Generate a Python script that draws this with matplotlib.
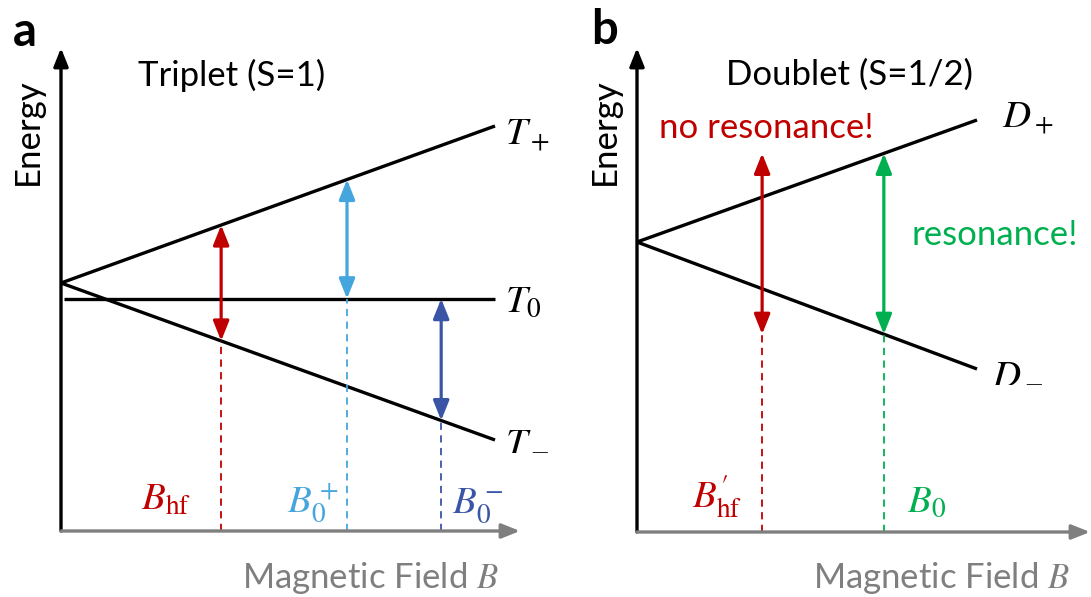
import numpy as np
import matplotlib
matplotlib.use("Agg")
import matplotlib.pyplot as plt

plt.rcParams['font.family'] = ['Lato', 'DejaVu Sans']
plt.rcParams['mathtext.fontset'] = 'stix'

# ---- data (schematic energy levels, arbitrary units) ----
# panel a: triplet
B_a = [0.0, 1.0]
T_plus = [0.0, 1.0]
T_zero_B = [0.007, 1.0]
T_zero = [-0.1, -0.1]
T_minus = [0.0, -1.0]
B_hf = 0.369
B0_plus = 0.659
B0_minus = 0.876

# panel b: doublet
B_b = [0.0, 1.0]
D_plus = [0.0, 0.98]
D_minus = [0.0, -1.02]
B_hf_prime = 0.368
B0 = 0.726

RED = '#C00000'
LBLUE = '#45A5DD'
DBLUE = '#3A55A6'
GREEN = '#00B050'
GRAY = '#7F7F7F'

W, H = 1091, 597
fig = plt.figure(figsize=(W / 100, H / 100), dpi=100)


def add_panel(x0, x1, y_top, y_bot):
    ax = fig.add_axes([x0 / W, 1 - y_bot / H, (x1 - x0) / W, (y_bot - y_top) / H])
    ax.set_axis_off()
    # axis arrows
    ax.annotate('', xy=(0, 1), xytext=(0, 0), xycoords='axes fraction',
                arrowprops=dict(arrowstyle='-|>,head_length=0.55,head_width=0.22', lw=2.4,
                                color='black', mutation_scale=20, shrinkA=0, shrinkB=0))
    ax.annotate('', xy=(1, 0), xytext=(0, 0), xycoords='axes fraction',
                arrowprops=dict(arrowstyle='-|>,head_length=0.55,head_width=0.22', lw=2.4,
                                color=GRAY, mutation_scale=20, shrinkA=0, shrinkB=0))
    return ax


def level(x_vals, y_vals, x):
    return np.interp(x, x_vals, y_vals)


def dbl_arrow(ax, x, y0, y1, color):
    ax.annotate('', xy=(x, y1), xytext=(x, y0),
                arrowprops=dict(arrowstyle='<|-|>,head_length=0.6,head_width=0.24', lw=2.3,
                                color=color, mutation_scale=20, shrinkA=0, shrinkB=0))


def dashed(ax, x, y_top, y_bot, color):
    ax.plot([x, x], [y_bot, y_top], color=color, lw=1.3, dashes=(4, 3))


mfont = 28
tfont = 25

# ---------------- panel a ----------------
ax = add_panel(61, 520, 48, 531)
ax.set_xlim(0, (520 - 61) / 434)
ax.set_ylim((283 - 531) / 157, (283 - 48) / 157)
ybot = ax.get_ylim()[0]

ax.plot(B_a, T_plus, color='black', lw=2.4, solid_capstyle='butt')
ax.plot(T_zero_B, T_zero, color='black', lw=2.4, solid_capstyle='butt')
ax.plot(B_a, T_minus, color='black', lw=2.4, solid_capstyle='butt')

e_p = level(B_a, T_plus, B_hf)
e_m = level(B_a, T_minus, B_hf)
dbl_arrow(ax, B_hf, e_m, e_p, RED)
dashed(ax, B_hf, e_m, ybot, RED)

e_p = level(B_a, T_plus, B0_plus)
e_0 = level(T_zero_B, T_zero, B0_plus)
dbl_arrow(ax, B0_plus, e_0, e_p, LBLUE)
dashed(ax, B0_plus, e_0, ybot, LBLUE)

e_0 = level(T_zero_B, T_zero, B0_minus)
e_m = level(B_a, T_minus, B0_minus)
dbl_arrow(ax, B0_minus, e_0, e_m, DBLUE)
dashed(ax, B0_minus, e_m, ybot, DBLUE)

ax.text(1.023, 0.879, r'$T_+$', fontsize=mfont, va='baseline', ha='left')
ax.text(1.023, -0.185, r'$T_0$', fontsize=mfont, va='baseline', ha='left')
ax.text(1.023, -1.064, r'$T_-$', fontsize=mfont, va='baseline', ha='left')
ax.text(B_hf - 0.07, -1.446, r'$B_{\mathrm{hf}}$', fontsize=mfont, color=RED,
        va='baseline', ha='right')
ax.text(B0_plus - 0.02, -1.465, r'$B_0^+$', fontsize=mfont, color=LBLUE,
        va='baseline', ha='right')
ax.text(B0_minus + 0.025, -1.465, r'$B_0^-$', fontsize=mfont, color=DBLUE,
        va='baseline', ha='left')

fig.text(232 / W, 1 - 75 / H, 'Triplet (S=1)', fontsize=tfont, ha='center', va='center')
fig.text(370 / W, 1 - 578 / H, r'Magnetic Field $B$', fontsize=tfont, color=GRAY,
         ha='center', va='center')
fig.text(28 / W, 1 - 132 / H, 'Energy', fontsize=tfont, rotation=90, ha='center', va='center')
fig.text(25 / W, 1 - 32 / H, 'a', fontsize=34, fontweight='bold', ha='center', va='center')

# ---------------- panel b ----------------
ax = add_panel(637, 1090, 48, 532)
ax.set_xlim(0, (1090 - 637) / 340)
ax.set_ylim((242 - 532) / 124.5, (242 - 48) / 124.5)
ybot = ax.get_ylim()[0]

ax.plot(B_b, D_plus, color='black', lw=2.4, solid_capstyle='butt')
ax.plot(B_b, D_minus, color='black', lw=2.4, solid_capstyle='butt')

e_p = level(B_b, D_plus, B0)
e_m = level(B_b, D_minus, B0)
dbl_arrow(ax, B0, e_m, e_p, GREEN)
dashed(ax, B0, e_m, ybot, GREEN)
# same photon energy at the hyperfine field: misses the levels
dbl_arrow(ax, B_hf_prime, e_m, e_p, RED)
dashed(ax, B_hf_prime, e_m, ybot, RED)

ax.text(1.074, 0.916, r'$D_+$', fontsize=mfont, va='baseline', ha='left')
ax.text(1.044, -1.124, r'$D_-$', fontsize=mfont, va='baseline', ha='left')
ax.text(B_hf_prime - 0.06, -2.132, r'$B_{\mathrm{hf}}^{\prime}$', fontsize=mfont, color=RED,
        va='baseline', ha='right')
ax.text(B0 + 0.067, -2.165, r'$B_0$', fontsize=mfont, color=GREEN,
        va='baseline', ha='left')

fig.text(766 / W, 1 - 128 / H, 'no resonance!', fontsize=tfont, color=RED, ha='center', va='center')
fig.text(995 / W, 1 - 235 / H, 'resonance!', fontsize=tfont, color=GREEN, ha='center', va='center')
fig.text(850 / W, 1 - 75 / H, 'Doublet (S=1/2)', fontsize=tfont, ha='center', va='center')
fig.text(941 / W, 1 - 578 / H, r'Magnetic Field $B$', fontsize=tfont, color=GRAY,
         ha='center', va='center')
fig.text(605 / W, 1 - 132 / H, 'Energy', fontsize=tfont, rotation=90, ha='center', va='center')
fig.text(604 / W, 1 - 30 / H, 'b', fontsize=34, fontweight='bold', ha='center', va='center')

fig.savefig('out.png', dpi=100)
